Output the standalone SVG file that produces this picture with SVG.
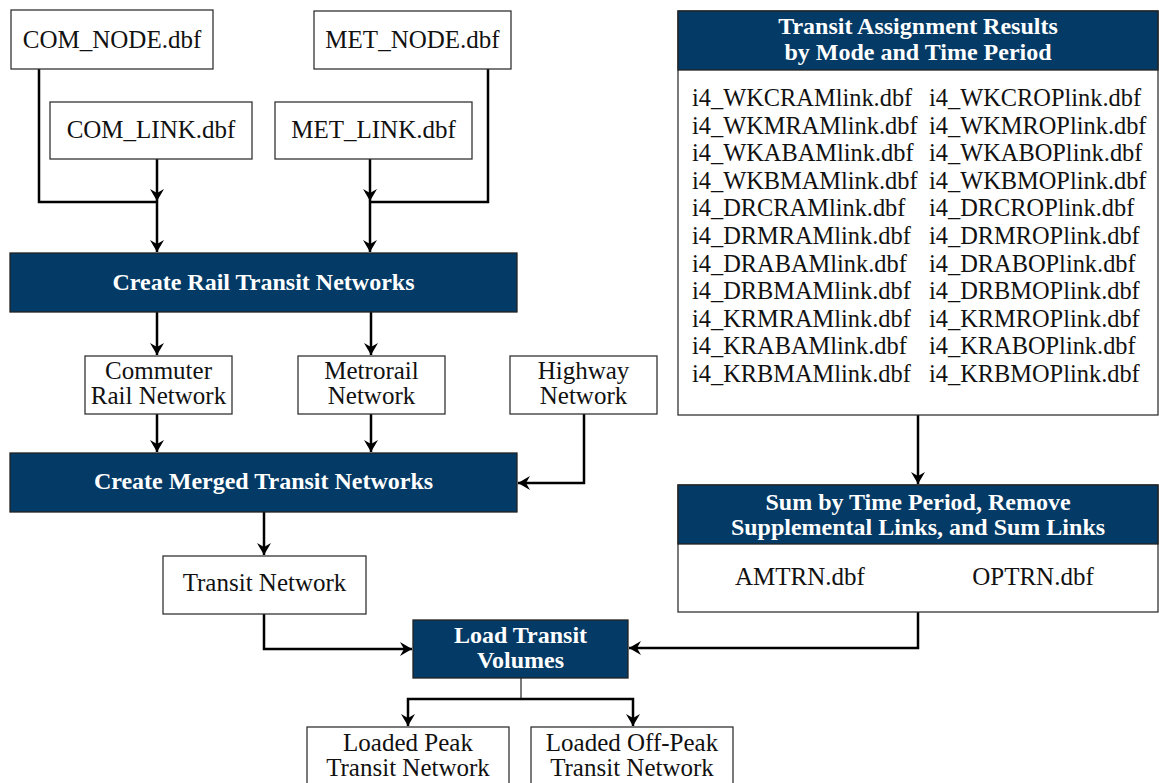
<svg xmlns="http://www.w3.org/2000/svg" width="1159" height="783" viewBox="0 0 1159 783">
<defs>
<style>
.box{fill:#fff;stroke:#333;stroke-width:1.3}
.hdr{fill:#033a66;stroke:#222;stroke-width:1.3}
.t{font-family:"Liberation Serif",serif;font-size:25px;fill:#111;text-anchor:middle}
.l{font-family:"Liberation Serif",serif;font-size:24.4px;fill:#111}
.h{font-family:"Liberation Serif",serif;font-size:24px;font-weight:bold;fill:#fff;text-anchor:middle}
.c{fill:none;stroke:#000;stroke-width:2.5}
.thin{fill:none;stroke:#222;stroke-width:1.2}
</style>
<marker id="ah" markerUnits="userSpaceOnUse" viewBox="0 0 12 14" markerWidth="12" markerHeight="14" refX="12" refY="7" orient="auto">
<path d="M0,0 L12,7 L0,14 L4,7 z" fill="#000"/>
</marker>
</defs>
<rect width="1159" height="783" fill="#fff"/>

<g id="connectors">
<path class="c" d="M157,159 V201" marker-end="url(#ah)"/>
<path class="c" d="M39,69 V202 H157 V252" marker-end="url(#ah)"/>
<path class="c" d="M370,159 V201" marker-end="url(#ah)"/>
<path class="c" d="M488,69 V202 H370 V252" marker-end="url(#ah)"/>
<path class="c" d="M157,312 V355" marker-end="url(#ah)"/>
<path class="c" d="M371,312 V355" marker-end="url(#ah)"/>
<path class="c" d="M157,414 V452" marker-end="url(#ah)"/>
<path class="c" d="M371,414 V452" marker-end="url(#ah)"/>
<path class="c" d="M584,414 V483 H518" marker-end="url(#ah)"/>
<path class="c" d="M264,512 V555" marker-end="url(#ah)"/>
<path class="c" d="M918,415 V484" marker-end="url(#ah)"/>
<path class="c" d="M264,614 V649 H412" marker-end="url(#ah)"/>
<path class="c" d="M918,612 V648 H629" marker-end="url(#ah)"/>
<path class="thin" d="M521,678 V699"/>
<path class="c" d="M521,699 H408 V726" marker-end="url(#ah)"/>
<path class="c" d="M521,699 H633 V726" marker-end="url(#ah)"/>
</g>

<g id="com_node"><rect class="box" x="11" y="10" width="202" height="59"/><text class="t" x="112" y="48">COM_NODE.dbf</text></g>
<g id="met_node"><rect class="box" x="314" y="11" width="197" height="58"/><text class="t" x="412.5" y="48">MET_NODE.dbf</text></g>
<g id="com_link"><rect class="box" x="50" y="102" width="202" height="57"/><text class="t" x="151" y="138">COM_LINK.dbf</text></g>
<g id="met_link"><rect class="box" x="275" y="102" width="197" height="57"/><text class="t" x="373.5" y="138">MET_LINK.dbf</text></g>

<g id="create_rail"><rect class="hdr" x="10" y="253" width="507" height="59"/><text class="h" x="263.5" y="290">Create Rail Transit Networks</text></g>

<g id="commuter"><rect class="box" x="85" y="356" width="147" height="58"/><text class="t" x="158.5" y="379">Commuter</text><text class="t" x="158.5" y="404">Rail Network</text></g>
<g id="metrorail"><rect class="box" x="298" y="356" width="147" height="58"/><text class="t" x="371.5" y="379">Metrorail</text><text class="t" x="371.5" y="404">Network</text></g>
<g id="highway"><rect class="box" x="510" y="356" width="147" height="58"/><text class="t" x="583.5" y="379">Highway</text><text class="t" x="583.5" y="404">Network</text></g>

<g id="create_merged"><rect class="hdr" x="10" y="453" width="507" height="59"/><text class="h" x="263.5" y="489">Create Merged Transit Networks</text></g>

<g id="transit_network"><rect class="box" x="163" y="556" width="203" height="58"/><text class="t" x="264.5" y="591">Transit Network</text></g>

<g id="assignment">
<rect class="box" x="678" y="11" width="480" height="404"/>
<rect class="hdr" x="678" y="11" width="480" height="59"/>
<text class="h" x="918" y="34">Transit Assignment Results</text>
<text class="h" x="918" y="60">by Mode and Time Period</text>
<text class="l" x="692" y="106">i4_WKCRAMlink.dbf</text><text class="l" x="929" y="106">i4_WKCROPlink.dbf</text>
<text class="l" x="692" y="133.6">i4_WKMRAMlink.dbf</text><text class="l" x="929" y="133.6">i4_WKMROPlink.dbf</text>
<text class="l" x="692" y="161.2">i4_WKABAMlink.dbf</text><text class="l" x="929" y="161.2">i4_WKABOPlink.dbf</text>
<text class="l" x="692" y="188.8">i4_WKBMAMlink.dbf</text><text class="l" x="929" y="188.8">i4_WKBMOPlink.dbf</text>
<text class="l" x="692" y="216.4">i4_DRCRAMlink.dbf</text><text class="l" x="929" y="216.4">i4_DRCROPlink.dbf</text>
<text class="l" x="692" y="244">i4_DRMRAMlink.dbf</text><text class="l" x="929" y="244">i4_DRMROPlink.dbf</text>
<text class="l" x="692" y="271.6">i4_DRABAMlink.dbf</text><text class="l" x="929" y="271.6">i4_DRABOPlink.dbf</text>
<text class="l" x="692" y="299.2">i4_DRBMAMlink.dbf</text><text class="l" x="929" y="299.2">i4_DRBMOPlink.dbf</text>
<text class="l" x="692" y="326.8">i4_KRMRAMlink.dbf</text><text class="l" x="929" y="326.8">i4_KRMROPlink.dbf</text>
<text class="l" x="692" y="354.4">i4_KRABAMlink.dbf</text><text class="l" x="929" y="354.4">i4_KRABOPlink.dbf</text>
<text class="l" x="692" y="382">i4_KRBMAMlink.dbf</text><text class="l" x="929" y="382">i4_KRBMOPlink.dbf</text>
</g>

<g id="sum">
<rect class="box" x="678" y="485" width="480" height="127"/>
<rect class="hdr" x="678" y="485" width="480" height="59"/>
<text class="h" x="918" y="510">Sum by Time Period, Remove</text>
<text class="h" x="918" y="535">Supplemental Links, and Sum Links</text>
<text class="t" x="800" y="585">AMTRN.dbf</text>
<text class="t" x="1033" y="585">OPTRN.dbf</text>
</g>

<g id="load"><rect class="hdr" x="413" y="620" width="215" height="58"/><text class="h" x="520.5" y="643">Load Transit</text><text class="h" x="520.5" y="668">Volumes</text></g>

<g id="loaded_peak"><rect class="box" x="307" y="727" width="202" height="70"/><text class="t" x="408" y="751">Loaded Peak</text><text class="t" x="408" y="776">Transit Network</text></g>
<g id="loaded_offpeak"><rect class="box" x="531" y="727" width="202" height="70"/><text class="t" x="632" y="751">Loaded Off-Peak</text><text class="t" x="632" y="776">Transit Network</text></g>
</svg>
